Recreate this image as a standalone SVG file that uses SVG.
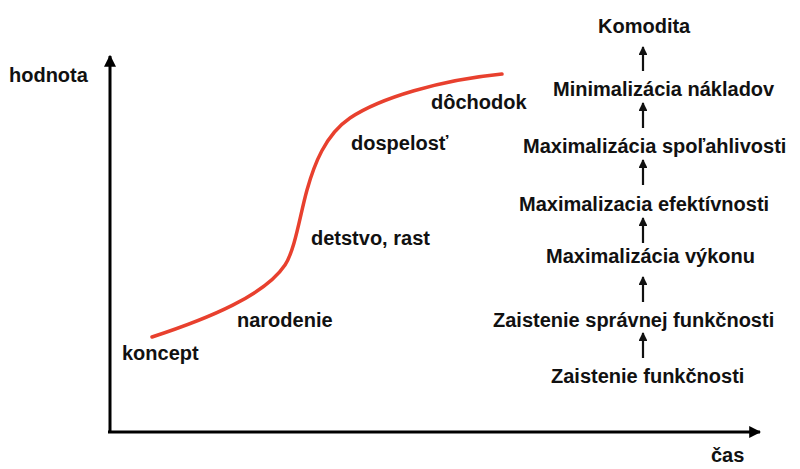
<svg xmlns="http://www.w3.org/2000/svg" width="800" height="469" viewBox="0 0 800 469">
<style>
text{font-family:"Liberation Sans",Arial,sans-serif;font-weight:bold;font-size:20px;fill:#111}
.ax{stroke:#000;stroke-width:3;fill:none}
.st{stroke:#111;stroke-width:2.2;fill:none}
</style>
<defs>
<marker id="ah" viewBox="0 0 10 10" refX="9" refY="5" markerWidth="4" markerHeight="4" orient="auto" markerUnits="strokeWidth"><path d="M0,0L10,5L0,10Z" fill="#000"/></marker>
<marker id="sh" viewBox="0 0 10 10" refX="9" refY="5" markerWidth="4" markerHeight="4" orient="auto" markerUnits="strokeWidth"><path d="M0,0L10,5L0,10Z" fill="#111"/></marker>
</defs>
<rect width="800" height="469" fill="#fff"/>
<g id="axes">
<path class="ax" d="M110,432V56" marker-end="url(#ah)"/>
<path class="ax" d="M108,432H760" marker-end="url(#ah)"/>
<text x="9" y="82">hodnota</text>
<text x="711" y="462">čas</text>
</g>
<g id="curve">
<path d="M152,337 C210,318 265,295 285,265 C295,250 300,215 307,190 C314,165 325,135 350,118 C380,98 440,80 502,74" stroke="#e8402e" stroke-width="3.5" fill="none" stroke-linecap="round"/>
<text x="122" y="360">koncept</text>
<text x="237" y="327">narodenie</text>
<text x="311" y="245">detstvo, rast</text>
<text x="351" y="150">dospelosť</text>
<text x="431" y="109">dôchodok</text>
</g>
<g id="n1"><text x="551" y="383">Zaistenie funkčnosti</text></g>
<g id="n2"><text x="493" y="327">Zaistenie správnej funkčnosti</text></g>
<g id="n3"><text x="546" y="263">Maximalizácia výkonu</text></g>
<g id="n4"><text x="519" y="211">Maximalizacia efektívnosti</text></g>
<g id="n5"><text x="523" y="153">Maximalizácia spoľahlivosti</text></g>
<g id="n6"><text x="553" y="96">Minimalizácia nákladov</text></g>
<g id="n7"><text x="598" y="33">Komodita</text></g>
<g id="connectors">
<path class="st" d="M643,358V333" marker-end="url(#sh)"/>
<path class="st" d="M643,302V277" marker-end="url(#sh)"/>
<path class="st" d="M643,243V218" marker-end="url(#sh)"/>
<path class="st" d="M643,185V160" marker-end="url(#sh)"/>
<path class="st" d="M643,128V103" marker-end="url(#sh)"/>
<path class="st" d="M643,71V47" marker-end="url(#sh)"/>
</g>
</svg>
